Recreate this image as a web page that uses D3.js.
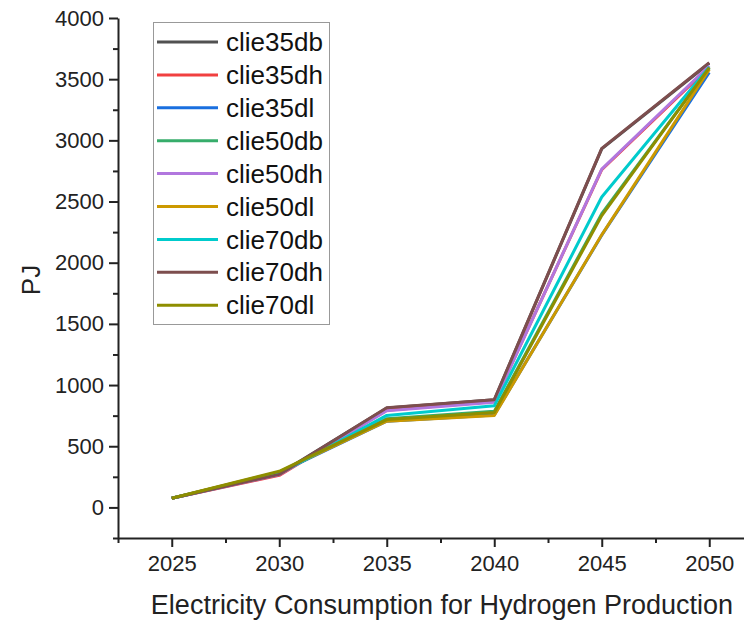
<!DOCTYPE html>
<html>
<head>
<meta charset="utf-8">
<script src="https://cdn.jsdelivr.net/npm/d3@7"></script>
<style>
  body { margin: 0; background: #fff; }
  svg { display: block; font-family: Arial, "Liberation Sans", sans-serif; }
</style>
</head>
<body>
<svg id="chart" width="744" height="620"></svg>
<script>
const years = [2025, 2030, 2035, 2040, 2045, 2050];
const seriesNames = ["clie35db", "clie35dh", "clie35dl", "clie50db", "clie50dh", "clie50dl", "clie70db", "clie70dh", "clie70dl"];
const clie35db = [75, 275, 812, 880, 2930, 3630];
const clie35dh = [75, 262, 795, 865, 2760, 3600];
const clie35dl = [75, 285, 705, 755, 2225, 3555];
const clie50db = [75, 285, 725, 785, 2400, 3590];
const clie50dh = [75, 268, 790, 860, 2765, 3610];
const clie50dl = [75, 290, 705, 752, 2228, 3580];
const clie70db = [75, 275, 752, 830, 2537, 3600];
const clie70dh = [75, 270, 815, 880, 2935, 3635];
const clie70dl = [75, 295, 718, 775, 2385, 3595];
const yTicks = [0, 500, 1000, 1500, 2000, 2500, 3000, 3500, 4000];
const xTicks = [2025, 2030, 2035, 2040, 2045, 2050];
const colors = ["#515151", "#F14040", "#1A6FDF", "#37AD6B", "#B177DE", "#CC9900", "#00CBCC", "#7D4E4E", "#8E8E00"];

const values = [clie35db, clie35dh, clie35dl, clie50db, clie50dh, clie50dl, clie70db, clie70dh, clie70dl];
const series = seriesNames.map((name, i) => ({
  name,
  color: colors[i],
  points: years.map((y, j) => ({ year: y, value: values[i][j] })),
}));

const svg = d3.select("#chart");

const x = d3.scaleLinear().domain([2022.5, 2052.5]).range([118, 763]);
const y = d3.scaleLinear().domain([-250, 4000]).range([538, 18]);

// minor ticks
const xMinor = d3.range(2022.5, 2053, 2.5).filter((v) => !xTicks.includes(v));
const yMinor = d3.range(-250, 4001, 250).filter((v) => !yTicks.includes(v));

svg.append("g")
  .attr("transform", "translate(0,538)")
  .call(d3.axisBottom(x).tickValues(xMinor).tickSize(5).tickFormat("").tickSizeOuter(0))
  .call((g) => g.select(".domain").remove());
svg.append("g")
  .attr("transform", "translate(118,0)")
  .call(d3.axisLeft(y).tickValues(yMinor).tickSize(5).tickFormat("").tickSizeOuter(0))
  .call((g) => g.select(".domain").remove());

const xAxis = svg.append("g")
  .attr("transform", "translate(0,538)")
  .call(d3.axisBottom(x).tickValues(xTicks).tickSize(9).tickPadding(8).tickFormat(d3.format("d")).tickSizeOuter(0));
const yAxis = svg.append("g")
  .attr("transform", "translate(118,0)")
  .call(d3.axisLeft(y).tickValues(yTicks).tickSize(9).tickPadding(5).tickFormat(d3.format("d")).tickSizeOuter(0));

[xAxis, yAxis].forEach((g) => {
  g.selectAll("text").attr("font-size", 22).attr("fill", "#222").attr("font-family", "Arial, 'Liberation Sans', sans-serif");
});
svg.selectAll(".domain, .tick line").attr("stroke", "#222").attr("stroke-width", 2);

const line = d3.line().x((d) => x(d.year)).y((d) => y(d.value));

svg.append("g")
  .selectAll("path")
  .data(series)
  .join("path")
  .attr("d", (d) => line(d.points))
  .attr("fill", "none")
  .attr("stroke", (d) => d.color)
  .attr("stroke-width", 3)
  .attr("stroke-linejoin", "round");

// axis titles
svg.append("text")
  .attr("x", 442)
  .attr("y", 614)
  .attr("text-anchor", "middle")
  .attr("font-size", 27)
  .attr("fill", "#222")
  .text("Electricity Consumption for Hydrogen Production");

svg.append("text")
  .attr("transform", "translate(40,280) rotate(-90)")
  .attr("text-anchor", "middle")
  .attr("font-size", 26)
  .attr("fill", "#222")
  .text("PJ");

// legend
const legend = svg.append("g");
legend.append("rect")
  .attr("x", 153.5).attr("y", 22.5)
  .attr("width", 176).attr("height", 302)
  .attr("fill", "#fff").attr("stroke", "#999").attr("stroke-width", 1);

const rows = legend.selectAll("g.row")
  .data(series)
  .join("g")
  .attr("class", "row")
  .attr("transform", (d, i) => `translate(0,${42 + i * 32.9})`);
rows.append("line")
  .attr("x1", 157).attr("x2", 218)
  .attr("stroke", (d) => d.color)
  .attr("stroke-width", 3);
rows.append("text")
  .attr("x", 226).attr("y", 0)
  .attr("dy", "0.35em")
  .attr("font-size", 26)
  .attr("fill", "#111")
  .text((d) => d.name);
</script>
</body>
</html>
